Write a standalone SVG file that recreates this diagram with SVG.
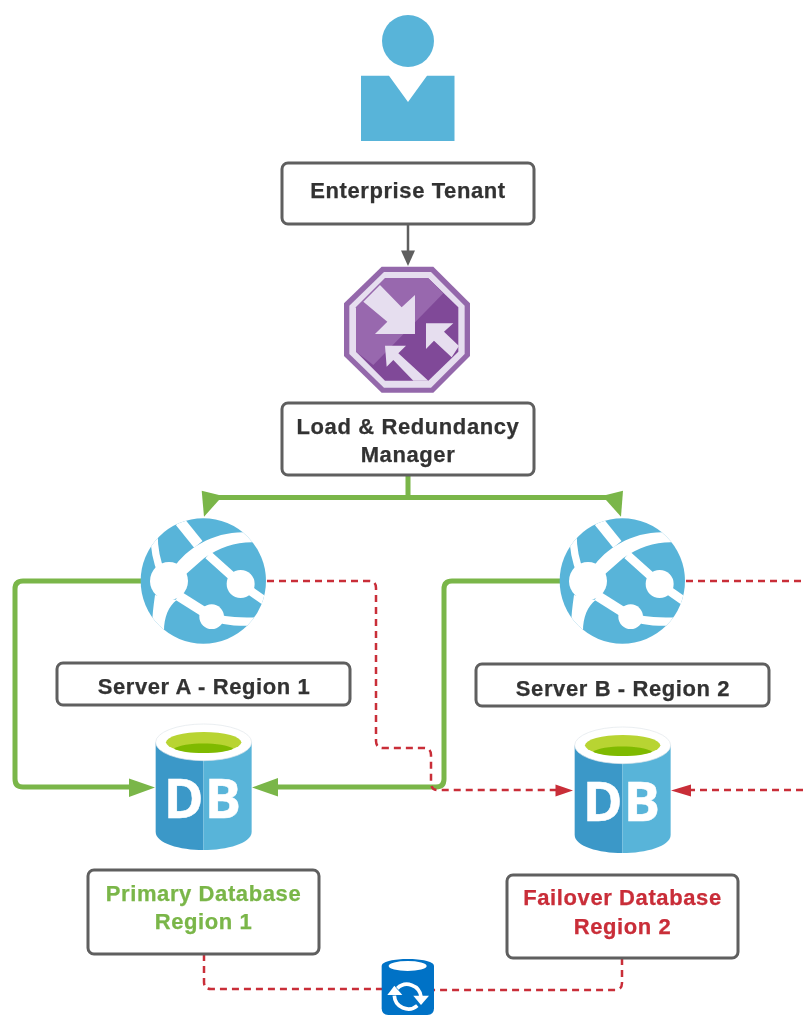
<svg xmlns="http://www.w3.org/2000/svg" xmlns:xlink="http://www.w3.org/1999/xlink" width="803" height="1015" viewBox="0 0 803 1015">
<style>
.box{fill:#fff;stroke:#5e5e5e;stroke-width:3}
.t{font-family:"Liberation Sans",Arial,sans-serif;font-weight:700;font-size:22px;letter-spacing:.6px;text-anchor:middle;fill:#333;stroke:#333;stroke-width:.25}
.tg{fill:#7ab648;stroke:#7ab648}
.tr{fill:#c92d39;stroke:#c92d39}
.g{stroke:#7ab648;stroke-width:5;fill:none;stroke-linejoin:round}
.r{stroke:#c92d39;stroke-width:2.500;fill:none;stroke-dasharray:7 5}
.gh{fill:#7ab648}.rh{fill:#c92d39}
.dbt{font-family:"Open Sans","Liberation Sans",sans-serif;font-weight:700;font-size:54px;letter-spacing:1px;fill:#fff;stroke:#fff;stroke-width:.5;text-anchor:middle}
.w{stroke:#fff;fill:none}
</style>
<defs>
<filter id="soft" x="0" y="0" width="100%" height="100%"><feGaussianBlur stdDeviation=".45"/></filter>
<clipPath id="gc"><circle cx="220" cy="228" r="188"/></clipPath>
<g id="globe" transform="translate(130 505) scale(.3333)">
<circle cx="220" cy="228" r="188" fill="#59b4d9"/>
<g clip-path="url(#gc)">
<path fill="#fff" d="M130 190C170 130 250 80 345 82L375 112C320 110 270 125 222 160L165 210Z"/>
<path class="w" stroke-width="32" d="M150 50L205 118"/>
<path class="w" stroke-width="26" d="M235 150L332 237L415 295"/>
<path class="w" stroke-width="22" d="M72 85C72 130 80 170 95 205"/>
<path fill="#fff" d="M75 270L140 285C110 310 95 350 105 420L70 420C62 370 68 320 75 270Z"/>
<path class="w" stroke-width="30" d="M145 272L245 335"/>
<path class="w" stroke-width="25" d="M245 335C290 350 330 352 395 349"/>
<circle cx="117" cy="228" r="57" fill="#fff"/>
<circle cx="332" cy="237" r="42" fill="#fff"/>
<circle cx="245" cy="335" r="37" fill="#fff"/>
</g>
</g>
<g id="db" transform="translate(130 715) scale(.3333)">
<path d="M77 82V350C77 385 150 405 220 405V82Z" fill="#3b98c8"/>
<path d="M365 82V350C365 385 290 405 220 405V82Z" fill="#59b4d9"/>
<ellipse cx="221" cy="82" rx="144" ry="55" fill="#fff" stroke="#dfe6ea" stroke-width="2"/>
<ellipse cx="221" cy="82" rx="113" ry="31" fill="#b8d432"/>
<path d="M132 101C160 80 280 80 310 101C280 118 160 118 132 101Z" fill="#7fba00"/>
</g>
</defs>
<g filter="url(#soft)">
<rect width="803" height="1015" fill="#fff"/>
<g id="connectors">
<path d="M408 224V252" stroke="#5e5e5e" stroke-width="2.500" fill="none"/>
<path d="M401 250.500L415 250.500L408 266Z" fill="#5e5e5e"/>
<path class="g" d="M408 475V497.500M218 497.500H607"/>
<path class="gh" d="M201.700 490.700L219 495L219 500L204 516.700Z"/>
<path class="gh" d="M623 490.700L606 495L606 500L621 516.700Z"/>
<path class="g" d="M141 581H23Q15 581 15 589V779Q15 787 23 787H131"/>
<path class="gh" d="M155 787.500L129 778.500V797Z"/>
<path class="g" d="M560 581H452Q444 581 444 589V779Q444 787 436 787H277"/>
<path class="gh" d="M252 787.500L278 778V796.500Z"/>
<path class="r" d="M267 581H369Q376 581 376 588V741Q376 748 383 748H424Q431 748 431 755V783Q431 790 438 790H558"/>
<path class="rh" d="M573 790.500L555.500 784.500V796.500Z"/>
<path class="r" d="M686 581H803"/>
<path class="r" d="M803 790H688"/>
<path class="rh" d="M671 790.500L691 784.500V796.500Z"/>
<path class="r" d="M204 954V982Q204 989 211 989H382"/>
<path class="r" d="M622 958V983Q622 990 615 990H434"/>
</g>
<g id="tenant-icon">
<circle cx="408" cy="41" r="26" fill="#59b4d9"/>
<path d="M361 75.700H389L408 102L427 75.700H454.500V141H361Z" fill="#59b4d9"/>
</g>
<g id="enterprise-tenant">
<rect class="box" x="282" y="163" width="252" height="61" rx="6"/>
<text class="t" x="408" y="198">Enterprise Tenant</text>
</g>
<g id="load-manager-icon" transform="translate(330 250) scale(.3333)">
<path d="M155 50H310L420 160V318L310 428H155L42 318V160Z" fill="#9468ab"/>
<path d="M162 66H303L404 167V312L303 413H162L58 312V167Z" fill="#e6deef"/>
<path d="M165 85H295L385 172V305L295 392H165L78 305V172Z" fill="#804998"/>
<path d="M165 85H295L340 130L130 345L78 305V172Z" fill="#9868ae"/>
<path d="M100 155L150 105L215 172L255 135V252H135L172 215Z" fill="#e6deef"/>
<path d="M370 220H288V297L312 272L365 322L387 288L342 245Z" fill="#e6deef"/>
<path d="M165 287H228L205 310L295 392H250L190 330L170 350Z" fill="#e6deef"/>
</g>
<g id="load-manager">
<rect class="box" x="282" y="403" width="252" height="72" rx="6"/>
<text class="t" x="408" y="434">Load &amp; Redundancy</text>
<text class="t" x="408" y="462">Manager</text>
</g>
<g id="server-a">
<use xlink:href="#globe" href="#globe"/>
<rect class="box" x="57" y="663" width="293" height="42" rx="6"/>
<text class="t" x="204" y="694">Server A - Region 1</text>
</g>
<g id="server-b">
<use xlink:href="#globe" href="#globe" x="419"/>
<rect class="box" x="476" y="664" width="293" height="42" rx="6"/>
<text class="t" x="623" y="696">Server B - Region 2</text>
</g>
<g id="primary-db">
<use xlink:href="#db" href="#db"/>
<text class="dbt" x="203" y="818">DB</text>
<rect class="box" x="88" y="870" width="231" height="84" rx="6"/>
<text class="t tg" x="203.500" y="901">Primary Database</text>
<text class="t tg" x="203.500" y="929">Region 1</text>
</g>
<g id="failover-db">
<use xlink:href="#db" href="#db" x="419" y="3"/>
<text class="dbt" x="622" y="821">DB</text>
<rect class="box" x="507" y="875" width="231" height="83" rx="6"/>
<text class="t tr" x="622.500" y="905">Failover Database</text>
<text class="t tr" x="622.500" y="934">Region 2</text>
</g>
<g id="sync" transform="translate(360 945) scale(.3333)">
<path d="M65 63C65 35 222 35 222 63V190Q222 210 202 210H85Q65 210 65 190Z" fill="#0072c6"/>
<ellipse cx="143" cy="63" rx="57" ry="15" fill="#fff"/>
<path class="w" stroke-width="11" d="M112 130A42 42 0 0 1 183 155"/>
<path d="M160 152H207L183 180Z" fill="#fff"/>
<path class="w" stroke-width="11" d="M172 182A42 42 0 0 1 103 152"/>
<path d="M82 150H127L103 122Z" fill="#fff"/>
</g>
</g>
</svg>
